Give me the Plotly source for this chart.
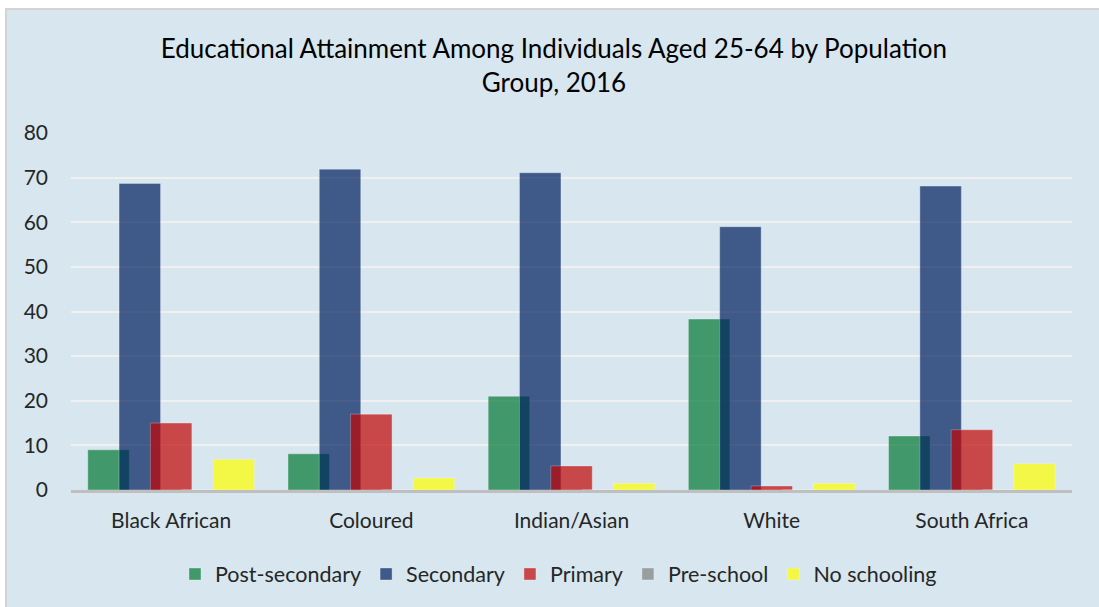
import plotly.graph_objects as go

categories = ["Black African", "Coloured", "Indian/Asian", "White", "South Africa"]
post_secondary = [9.0, 8.1, 21.0, 38.3, 12.1]
secondary = [68.7, 71.9, 71.1, 59.0, 68.1]
primary = [15.0, 17.0, 5.4, 0.9, 13.5]
pre_school = [0.0, 0.0, 0.0, 0.0, 0.0]
no_schooling = [6.9, 2.7, 1.5, 1.5, 5.9]
y_ticks = [0, 10, 20, 30, 40, 50, 60, 70, 80]

series = [
    ("Post-secondary", post_secondary, "rgb(2,121,52)"),
    ("Secondary", secondary, "rgb(0,31,95)"),
    ("Primary", primary, "rgb(194,4,3)"),
    ("Pre-school", pre_school, "rgb(128,128,128)"),
    ("No schooling", no_schooling, "rgb(255,255,0)"),
]

FONT = "Lato"
bar_w = 0.2073
step = 0.1563

fig = go.Figure()
for k, (name, vals, col) in enumerate(series):
    fig.add_trace(go.Bar(
        x=categories, y=vals, name=name,
        width=bar_w, offset=(k - 2) * step - bar_w / 2,
        marker=dict(color=col, line=dict(color="rgba(255,255,255,0.35)", width=1)),
        opacity=0.7,
    ))

# plot area in px: x 71..1072, y 133..490
L, R, T, B = 71, 1072, 133, 490
W, H = R - L, B - T

def px_x(x):
    return (x - L) / W

def px_y(y):
    return (B - y) / H

fig.add_shape(type="rect", xref="paper", yref="paper",
              x0=px_x(6), x1=px_x(1110), y0=px_y(620), y1=px_y(9),
              fillcolor="#d7e6ef", line=dict(color="#d4d4d4", width=2), layer="below")

fig.update_layout(
    width=1099, height=607,
    margin=dict(l=L, r=1099 - R, t=T, b=607 - B),
    paper_bgcolor="white",
    plot_bgcolor="rgba(0,0,0,0)",
    barmode="overlay",
    font=dict(family=FONT, color="#262626"),
    title=dict(
        text="Educational Attainment Among Individuals Aged 25-64 by Population<br>Group, 2016",
        x=0.504, xanchor="center", y=1 - 58 / 607, yanchor="middle",
        font=dict(family=FONT, size=26, color="black"),
    ),
    legend=dict(
        orientation="h", x=0.487, xanchor="center", y=px_y(574), yanchor="middle",
        font=dict(family=FONT, size=21.5, color="#262626"),
        bgcolor="rgba(0,0,0,0)", itemwidth=30, traceorder="normal",
    ),
    showlegend=True,
)

fig.update_yaxes(
    range=[0, 80], tickvals=y_ticks, showgrid=True, gridcolor="#f0f0f0", gridwidth=2,
    zeroline=False, showline=False, ticks="", tickfont=dict(family=FONT, size=21, color="#262626"),
    ticklabelstandoff=22, ticksuffix="  ",
)
fig.update_xaxes(
    showgrid=False, showline=True, linecolor="#bfbfbf", linewidth=3, ticks="",
    tickfont=dict(family=FONT, size=21, color="#262626"), ticklabelstandoff=10,
)

fig.write_html("out.html")
